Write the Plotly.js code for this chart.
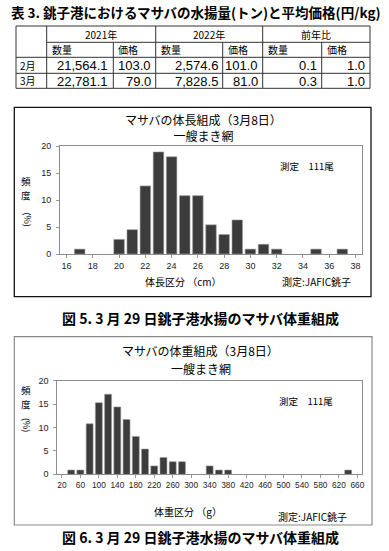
<!DOCTYPE html>
<html><head><meta charset="utf-8">
<script src="https://cdn.plot.ly/plotly-3.0.1.min.js"></script>
<style>html,body{margin:0;padding:0;background:#fff;}#chart{width:389px;height:551px;}</style>
</head><body><div id="chart"></div>
<script>
// ---- data ----
const tableTitle = '表 3. 銚子港におけるマサバの水揚量(トン)と平均価格(円/kg)';
const yearHeaders = ['2021年', '2022年', '前年比'];
const subHeaders = ['数量', '価格'];
const months = ['2月', '3月'];
const qty2021 = [21564.1, 22781.1];
const price2021 = [103.0, 79.0];
const qty2022 = [2574.6, 7828.5];
const price2022 = [101.0, 81.0];
const ratioQty = [0.1, 0.3];
const ratioPrice = [1.0, 1.0];

const lengthBins = [17, 20, 21, 22, 23, 24, 25, 26, 27, 28, 29, 30, 31, 32, 35, 37];
const lengthPct = [0.9, 2.7, 4.5, 12.6, 18.9, 18.0, 10.8, 10.8, 5.4, 3.6, 6.3, 0.9, 1.8, 0.9, 0.9, 0.9];
const weightBins = [40, 60, 80, 100, 120, 140, 160, 180, 200, 220, 240, 260, 280, 340, 360, 380, 640];
const weightPct = [0.9, 0.9, 10.8, 15.3, 17.1, 14.4, 11.7, 8.1, 5.4, 1.8, 3.6, 2.7, 2.7, 1.8, 0.9, 0.9, 0.9];

const chart1Title = 'マサバの体長組成（3月8日）';
const chart2Title = 'マサバの体重組成（3月8日）';
const gearLabel = '一艘まき網';
const countLabel = '測定　111尾';
const sourceLabel = '測定:JAFIC銚子';
const xTitle1 = '体長区分 （cm）';
const xTitle2 = '体重区分 （g）';
const caption1 = '図 5. 3 月 29 日銚子港水揚のマサバ体重組成';
const caption2 = '図 6. 3 月 29 日銚子港水揚のマサバ体重組成';

// ---- helpers ----
const W = 389, H = 551;
const X = p => p / W;
const Y = p => 1 - p / H;
const JP = '"Noto Sans CJK JP", sans-serif';
const NUM = '"Liberation Sans", Arial, sans-serif';
const fmt = v => v.toLocaleString('en-US', {minimumFractionDigits: 1, maximumFractionDigits: 1});

const shapes = [];
const annotations = [];
function line(x0, y0, x1, y1, color, w) {
  shapes.push({type: 'line', xref: 'paper', yref: 'paper', x0: X(x0), y0: Y(y0), x1: X(x1), y1: Y(y1),
    line: {color: color || '#222', width: w || 1}});
}
function rect(x0, y0, x1, y1, color, w) {
  shapes.push({type: 'rect', xref: 'paper', yref: 'paper', x0: X(x0), y0: Y(y0), x1: X(x1), y1: Y(y1),
    line: {color: color, width: w}, fillcolor: 'rgba(0,0,0,0)'});
}
function text(t, x, y, size, anchor, family, angle) {
  annotations.push({text: t, xref: 'paper', yref: 'paper', x: X(x), y: Y(y), showarrow: false,
    xanchor: anchor || 'center', yanchor: 'middle', textangle: angle || 0,
    font: {family: family || JP, size: size, color: '#000'}});
}

// ---- table ----
text('<b>' + tableTitle + '</b>', 195.5, 12, 13.5);
const colX = [16, 46.7, 113.3, 155.7, 222.7, 262.7, 321.7, 370];
const rowY = [26, 42.3, 57.3, 73.3, 88.3];
rowY.forEach((y, i) => line(i === 1 ? colX[1] : colX[0], y, colX[7], y, '#333', 1));
colX.forEach((x, j) => {
  const merged = (j === 2 || j === 4 || j === 6);
  line(x, merged ? rowY[1] : rowY[0], x, rowY[4], '#333', 1);
});
yearHeaders.forEach((h, k) => text(h, (colX[1 + 2 * k] + colX[3 + 2 * k]) / 2, 34.2, 10));
for (let k = 0; k < 3; k++) subHeaders.forEach((s, m) => text(s, colX[1 + 2 * k + m] + 3, 49.8, 10, 'left'));
const tableCols = [qty2021, price2021, qty2022, price2022, ratioQty, ratioPrice];
months.forEach((mo, r) => {
  const yc = (rowY[2 + r] + rowY[3 + r]) / 2;
  text(mo, colX[0] + 2, yc, 10, 'left');
  tableCols.forEach((col, c) => text(fmt(col[r]), colX[c + 2] - 3, yc + 0.5, 13, 'right', NUM));
});

// ---- chart frames ----
rect(14.3, 107.3, 371, 296.7, '#111', 1.3);
rect(14.3, 336.7, 372, 525, '#8a8a8a', 1.2);

// vertical y title: upright 頻 / 度 and rotated (%)
function yTitle(x, y1, y2, yParen) {
  text('頻', x, y1, 9.5);
  text('度', x, y2, 9.5);
  text('(%)', x, yParen, 9, 'center', JP, 90);
}

// ---- chart 1 texts ----
text(chart1Title + '<br>' + gearLabel, 203, 127.5, 12);
text(countLabel, 307, 166.5, 9.5);
text(xTitle1, 183.5, 281, 10);
text(sourceLabel, 316, 281, 10);
yTitle(26.5, 180.5, 194.7, 220);
text('<b>' + caption1 + '</b>', 200.5, 318, 14);

// ---- chart 2 texts ----
text(chart2Title, 200.5, 350.3, 12);
text(gearLabel, 200.5, 368.3, 12);
text(countLabel, 306, 400.7, 9.5);
text(xTitle2, 188, 511, 10);
text(sourceLabel, 312.7, 516.7, 10);
yTitle(26.5, 389.5, 403.7, 425.5);
text('<b>' + caption2 + '</b>', 200.5, 537, 14);

// ---- traces ----
const barColor = '#3c3c3c';
const traces = [
  {type: 'bar', x: lengthBins, y: lengthPct, xaxis: 'x', yaxis: 'y', width: 0.8,
   marker: {color: barColor, line: {color: '#9a9a9a', width: 0.6}}, hoverinfo: 'skip'},
  {type: 'bar', x: weightBins, y: weightPct, xaxis: 'x2', yaxis: 'y2', width: 15,
   marker: {color: barColor, line: {color: '#9a9a9a', width: 0.6}}, hoverinfo: 'skip'}
];

const axisCommon = {showline: true, mirror: true, linecolor: '#8c8c8c', linewidth: 1, showgrid: false,
  zeroline: false, ticks: 'outside', ticklen: 3, tickcolor: '#999', tickwidth: 1, fixedrange: true};

const layout = {
  width: W, height: H, margin: {l: 0, r: 0, t: 0, b: 0}, showlegend: false,
  paper_bgcolor: '#fff', plot_bgcolor: '#fff', bargap: 0,
  xaxis: Object.assign({}, axisCommon, {domain: [X(60), X(362)], range: [15.5, 38.5], tick0: 16, dtick: 2,
    tickfont: {family: NUM, size: 9, color: '#222'}, anchor: 'y'}),
  yaxis: Object.assign({}, axisCommon, {domain: [Y(254), Y(146)], range: [0, 20], dtick: 5,
    tickfont: {family: NUM, size: 9, color: '#222'}, ticklabelstandoff: 3, anchor: 'x'}),
  xaxis2: Object.assign({}, axisCommon, {domain: [X(57.3), X(362)], range: [10, 670], tick0: 20, dtick: 40,
    tickfont: {family: NUM, size: 8.3, color: '#222'}, anchor: 'y2'}),
  yaxis2: Object.assign({}, axisCommon, {domain: [Y(474.3), Y(380.7)], range: [0, 20], dtick: 5,
    tickfont: {family: NUM, size: 9, color: '#222'}, ticklabelstandoff: 3, anchor: 'x2'}),
  shapes: shapes,
  annotations: annotations
};

Plotly.newPlot('chart', traces, layout, {displayModeBar: false, staticPlot: true});
</script>
</body></html>
